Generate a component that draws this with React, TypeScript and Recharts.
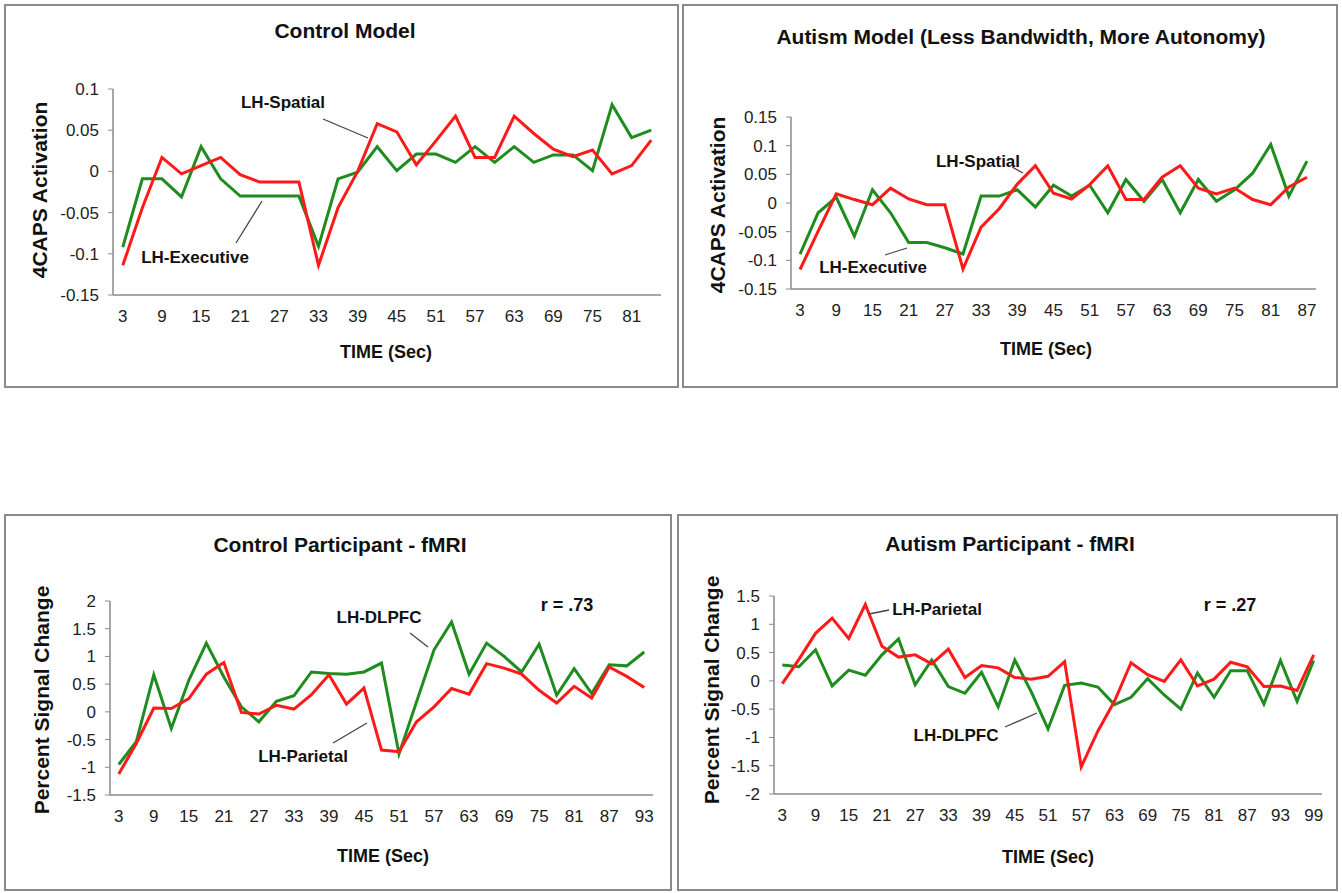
import { LineChart, Line, XAxis, YAxis } from 'recharts';

const modelTime = [3, 6, 9, 12, 15, 18, 21, 24, 27, 30, 33, 36, 39, 42, 45, 48, 51, 54, 57, 60, 63, 66, 69, 72, 75, 78, 81, 84];
const ctrlModelSpatial = [-0.114, -0.044, 0.017, -0.003, 0.007, 0.017, -0.004, -0.013, -0.013, -0.013, -0.114, -0.044, 0.0, 0.058, 0.048, 0.008, 0.037, 0.067, 0.017, 0.017, 0.067, 0.046, 0.027, 0.018, 0.026, -0.003, 0.007, 0.038];
const ctrlModelExec = [-0.092, -0.009, -0.009, -0.031, 0.03, -0.009, -0.03, -0.03, -0.03, -0.03, -0.091, -0.009, -0.001, 0.03, 0.001, 0.021, 0.021, 0.011, 0.03, 0.011, 0.03, 0.011, 0.02, 0.02, 0.001, 0.081, 0.041, 0.05];

const autModelTime = [3, 6, 9, 12, 15, 18, 21, 24, 27, 30, 33, 36, 39, 42, 45, 48, 51, 54, 57, 60, 63, 66, 69, 72, 75, 78, 81, 84, 87];
const autModelSpatial = [-0.116, -0.049, 0.016, 0.006, -0.003, 0.026, 0.007, -0.003, -0.003, -0.115, -0.042, -0.01, 0.033, 0.065, 0.017, 0.007, 0.032, 0.065, 0.006, 0.006, 0.045, 0.065, 0.026, 0.016, 0.026, 0.006, -0.003, 0.028, 0.045];
const autModelExec = [-0.089, -0.017, 0.01, -0.058, 0.023, -0.017, -0.069, -0.069, -0.078, -0.089, 0.012, 0.012, 0.023, -0.007, 0.031, 0.012, 0.031, -0.017, 0.041, 0.003, 0.041, -0.017, 0.041, 0.003, 0.023, 0.052, 0.102, 0.012, 0.073];

const ctrlFmriTime = [3, 6, 9, 12, 15, 18, 21, 24, 27, 30, 33, 36, 39, 42, 45, 48, 51, 54, 57, 60, 63, 66, 69, 72, 75, 78, 81, 84, 87, 90, 93];
const ctrlDlpfc = [-0.95, -0.54, 0.67, -0.3, 0.57, 1.24, 0.63, 0.09, -0.18, 0.19, 0.29, 0.72, 0.69, 0.68, 0.72, 0.88, -0.76, 0.18, 1.12, 1.62, 0.68, 1.24, 1.0, 0.72, 1.22, 0.3, 0.78, 0.33, 0.85, 0.83, 1.08];
const ctrlParietal = [-1.12, -0.57, 0.07, 0.06, 0.24, 0.68, 0.89, -0.01, -0.04, 0.12, 0.05, 0.31, 0.67, 0.14, 0.43, -0.69, -0.72, -0.18, 0.09, 0.42, 0.32, 0.87, 0.79, 0.68, 0.39, 0.16, 0.46, 0.25, 0.81, 0.64, 0.44];

const autFmriTime = [3, 6, 9, 12, 15, 18, 21, 24, 27, 30, 33, 36, 39, 42, 45, 48, 51, 54, 57, 60, 63, 66, 69, 72, 75, 78, 81, 84, 87, 90, 93, 96, 99];
const autParietal = [-0.05, 0.38, 0.84, 1.11, 0.75, 1.35, 0.61, 0.42, 0.46, 0.3, 0.56, 0.06, 0.27, 0.23, 0.06, 0.03, 0.08, 0.34, -1.52, -0.89, -0.36, 0.32, 0.11, -0.01, 0.37, -0.09, 0.03, 0.33, 0.25, -0.1, -0.09, -0.17, 0.46];
const autDlpfc = [0.28, 0.25, 0.55, -0.09, 0.19, 0.1, 0.46, 0.74, -0.07, 0.37, -0.1, -0.22, 0.15, -0.46, 0.37, -0.2, -0.85, -0.08, -0.04, -0.11, -0.42, -0.29, 0.04, -0.25, -0.5, 0.14, -0.29, 0.18, 0.18, -0.41, 0.36, -0.36, 0.36];

const modelTicks = [-0.15, -0.1, -0.05, 0, 0.05, 0.1];
const autModelTicks = [-0.15, -0.1, -0.05, 0, 0.05, 0.1, 0.15];
const ctrlFmriTicks = [-1.5, -1, -0.5, 0, 0.5, 1, 1.5, 2];
const autFmriTicks = [-2, -1.5, -1, -0.5, 0, 0.5, 1, 1.5];

const GREEN = '#1e8c1e';
const RED = '#ff1a1a';
const AXIS = '#8a8a8a';
const FONT = '"Liberation Sans", Arial, sans-serif';

type Note = { text: string; x: number; y: number; line: [number, number, number, number] };

interface PanelProps {
  x: number;
  y: number;
  w: number;
  h: number;
  title: string;
  titleXY: [number, number];
  yLabel: string;
  yLabelXY: [number, number];
  timeXY: [number, number];
  plot: { left: number; top: number; right: number; bottom: number };
  time: number[];
  red: number[];
  green: number[];
  ticks: number[];
  notes: Note[];
  rText?: { text: string; x: number; y: number };
}

const centered = (x: number, y: number): React.CSSProperties => ({
  position: 'absolute',
  left: x,
  top: y,
  transform: 'translate(-50%, -50%)',
  whiteSpace: 'nowrap',
  fontFamily: FONT,
  fontWeight: 700,
  color: '#111',
});

const Panel = (p: PanelProps) => {
  const data = p.time.map((t, i) => ({ t, red: p.red[i], green: p.green[i] }));
  const yAxisW = 60;
  const xAxisH = 30;
  const plotW = p.w - p.plot.left - p.plot.right;
  const pad = plotW / (2 * p.time.length);
  return (
    <div style={{ position: 'absolute', left: p.x, top: p.y, width: p.w, height: p.h, background: '#fff' }}>
      <div style={{ position: 'absolute', inset: 0, border: `2px solid ${AXIS}`, boxSizing: 'border-box' }} />
      <div style={{ position: 'absolute', left: 0, top: 0 }}>
        <LineChart
          width={p.w}
          height={p.h}
          data={data}
          margin={{ top: p.plot.top, right: p.plot.right, left: p.plot.left - yAxisW, bottom: p.plot.bottom - xAxisH }}
        >
          <XAxis
            dataKey="t"
            interval={1}
            height={xAxisH}
            padding={{ left: pad, right: pad }}
            tickLine={false}
            tickMargin={9}
            axisLine={{ stroke: AXIS, strokeWidth: 1.5 }}
            tick={{ fontSize: 17, fill: '#222', fontFamily: FONT }}
          />
          <YAxis
            type="number"
            width={yAxisW}
            domain={[p.ticks[0], p.ticks[p.ticks.length - 1]]}
            ticks={p.ticks}
            interval={0}
            tickSize={5}
            tickMargin={9}
            tickLine={{ stroke: AXIS }}
            axisLine={{ stroke: AXIS, strokeWidth: 1.5 }}
            tick={{ fontSize: 17, fill: '#222', fontFamily: FONT }}
          />
          <Line type="linear" dataKey="green" stroke={GREEN} strokeWidth={3} dot={false} isAnimationActive={false} />
          <Line type="linear" dataKey="red" stroke={RED} strokeWidth={3} dot={false} isAnimationActive={false} />
        </LineChart>
      </div>
      <svg width={p.w} height={p.h} style={{ position: 'absolute', left: 0, top: 0, pointerEvents: 'none' }}>
        {p.notes.map((n) => (
          <line key={n.text} x1={n.line[0]} y1={n.line[1]} x2={n.line[2]} y2={n.line[3]} stroke="#444" strokeWidth={1.3} />
        ))}
      </svg>
      <div style={{ ...centered(p.titleXY[0], p.titleXY[1]), fontSize: 21 }}>{p.title}</div>
      <div style={{ ...centered(p.yLabelXY[0], p.yLabelXY[1]), fontSize: 21, transform: 'translate(-50%, -50%) rotate(-90deg)' }}>
        {p.yLabel}
      </div>
      <div style={{ ...centered(p.timeXY[0], p.timeXY[1]), fontSize: 18 }}>TIME (Sec)</div>
      {p.notes.map((n) => (
        <div key={n.text} style={{ ...centered(n.x, n.y), fontSize: 17 }}>{n.text}</div>
      ))}
      {p.rText && <div style={{ ...centered(p.rText.x, p.rText.y), fontSize: 18 }}>{p.rText.text}</div>}
    </div>
  );
};

export default function App() {
  return (
    <div style={{ position: 'absolute', left: 0, top: 0, width: 1342, height: 893, background: '#fff', overflow: 'hidden' }}>
      <Panel
        x={4} y={4} w={675} h={384}
        title="Control Model" titleXY={[341, 27]}
        yLabel="4CAPS Activation" yLabelXY={[36, 186]}
        timeXY={[382, 348]}
        plot={{ left: 109, top: 85, right: 18, bottom: 93 }}
        time={modelTime} red={ctrlModelSpatial} green={ctrlModelExec} ticks={modelTicks}
        notes={[
          { text: 'LH-Spatial', x: 279, y: 99, line: [319, 115, 364, 134] },
          { text: 'LH-Executive', x: 191, y: 254, line: [232, 239, 258, 197] },
        ]}
      />
      <Panel
        x={682} y={4} w={656} h={384}
        title="Autism Model (Less Bandwidth, More Autonomy)" titleXY={[339, 33]}
        yLabel="4CAPS Activation" yLabelXY={[36, 201]}
        timeXY={[364, 345]}
        plot={{ left: 109, top: 113, right: 22, bottom: 99 }}
        time={autModelTime} red={autModelSpatial} green={autModelExec} ticks={autModelTicks}
        notes={[
          { text: 'LH-Spatial', x: 296, y: 158, line: [330, 163, 341, 169] },
          { text: 'LH-Executive', x: 191, y: 264, line: [203, 251, 225, 244] },
        ]}
      />
      <Panel
        x={4} y={514} w={668} h={377}
        title="Control Participant - fMRI" titleXY={[336, 31]}
        yLabel="Percent Signal Change" yLabelXY={[38, 186]}
        timeXY={[379, 342]}
        plot={{ left: 106, top: 87, right: 19, bottom: 96 }}
        time={ctrlFmriTime} red={ctrlParietal} green={ctrlDlpfc} ticks={ctrlFmriTicks}
        notes={[
          { text: 'LH-DLPFC', x: 375, y: 104, line: [406, 119, 424, 133] },
          { text: 'LH-Parietal', x: 299, y: 243, line: [329, 229, 363, 209] },
        ]}
        rText={{ text: 'r = .73', x: 563, y: 91 }}
      />
      <Panel
        x={677} y={514} w={661} h={377}
        title="Autism Participant - fMRI" titleXY={[333, 30]}
        yLabel="Percent Signal Change" yLabelXY={[35, 176]}
        timeXY={[371, 343]}
        plot={{ left: 97, top: 82, right: 16, bottom: 97 }}
        time={autFmriTime} red={autParietal} green={autDlpfc} ticks={autFmriTicks}
        notes={[
          { text: 'LH-Parietal', x: 260, y: 96, line: [192, 100, 212, 96] },
          { text: 'LH-DLPFC', x: 279, y: 222, line: [328, 213, 360, 199] },
        ]}
        rText={{ text: 'r = .27', x: 553, y: 91 }}
      />
    </div>
  );
}
